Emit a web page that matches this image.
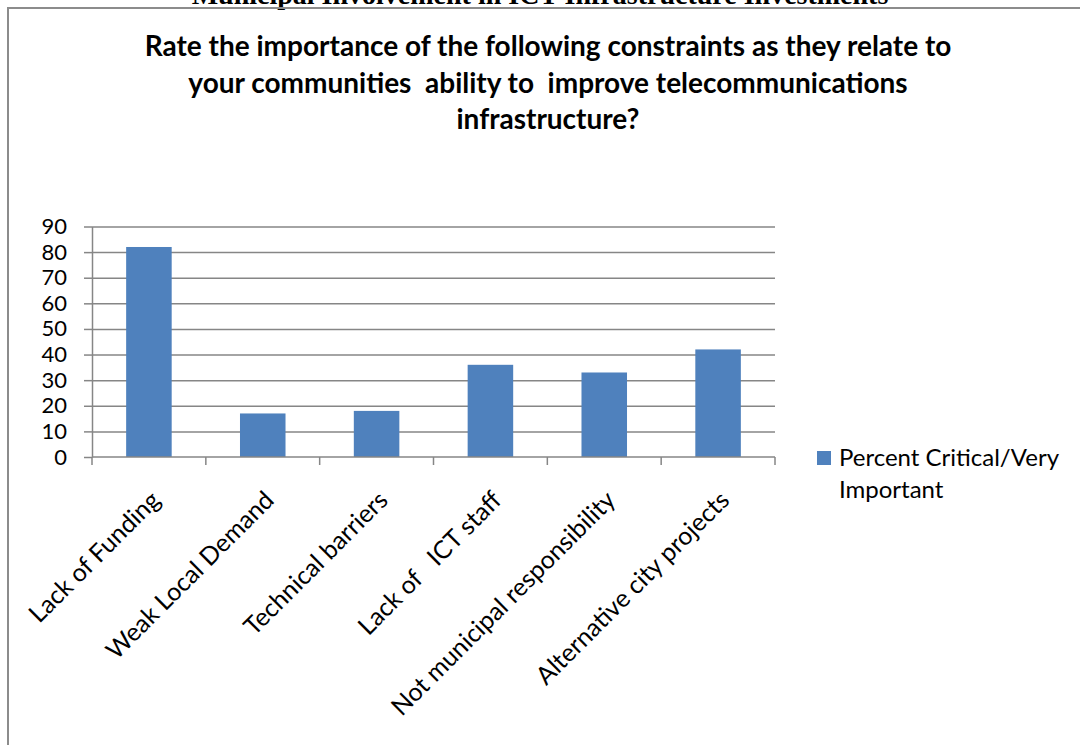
<!DOCTYPE html>
<html>
<head>
<meta charset="utf-8">
<script src="https://cdn.jsdelivr.net/npm/d3@7"></script>
<style>
  body { margin: 0; background: #fff; }
  svg { display: block; }
  .axis path, .axis line { stroke: #868686; stroke-width: 1.5; }
  .grid line { stroke: #868686; stroke-width: 1.5; }
  .grid path { display: none; }
</style>
</head>
<body>
<div id="chart"></div>
<script>
const categories = [
  'Lack of Funding',
  'Weak Local Demand',
  'Technical barriers',
  'Lack of   ICT staff',
  'Not municipal responsibility',
  'Alternative city projects'
]
const percentCritical = [82, 17, 18, 36, 33, 42]
const yTicks = [0, 10, 20, 30, 40, 50, 60, 70, 80, 90]
const titleLines = [
  'Rate the importance of the following constraints as they relate to',
  'your communities  ability to  improve telecommunications',
  'infrastructure?'
]
const seriesName = ['Percent Critical/Very', 'Important']
const pageHeading = 'Municipal Involvement in ICT Infrastructure Investments'

const fontFamily = 'Lato, "Open Sans", sans-serif'
const barColor = '#4f81bd'

const margin = { top: 226.5, left: 92, right: 305, bottom: 288 }
const totalWidth = 1080
const totalHeight = 745
const width = totalWidth - margin.left - margin.right
const height = totalHeight - margin.top - margin.bottom

const root = d3
  .select('#chart')
  .append('svg')
  .attr('width', totalWidth)
  .attr('height', totalHeight)

// page heading, cut off at the top edge like in the scan
root
  .append('text')
  .attr('x', 540)
  .attr('y', 4)
  .attr('text-anchor', 'middle')
  .attr('font-family', '"Liberation Serif", "Times New Roman", serif')
  .attr('font-weight', 'bold')
  .attr('font-size', 28)
  .text(pageHeading)

// chart frame
root
  .append('rect')
  .attr('x', 8)
  .attr('y', 8)
  .attr('width', 1200)
  .attr('height', 900)
  .attr('fill', 'none')
  .attr('stroke', '#8c8c8c')
  .attr('stroke-width', 2)

// title
root
  .append('text')
  .attr('text-anchor', 'middle')
  .attr('font-family', fontFamily)
  .attr('font-weight', 'bold')
  .attr('font-size', 28)
  .attr('fill', '#000')
  .selectAll('tspan')
  .data(titleLines)
  .enter()
  .append('tspan')
  .attr('x', 548)
  .attr('y', (d, i) => 56 + i * 36.5)
  .style('white-space', 'pre')
  .text(d => d)

const svg = root
  .append('g')
  .attr('transform', 'translate(' + margin.left + ',' + margin.top + ')')

const xPositionScale = d3
  .scaleBand()
  .domain(categories)
  .range([0, width])
  .paddingInner(0.6)
  .paddingOuter(0.3)

const xTickScale = d3
  .scaleBand()
  .domain(categories)
  .range([0, width])

const yPositionScale = d3
  .scaleLinear()
  .domain([0, 90])
  .range([height, 0])

// gridlines
svg
  .append('g')
  .attr('class', 'grid')
  .call(
    d3
      .axisLeft(yPositionScale)
      .tickValues(yTicks.filter(d => d > 0))
      .tickSize(-width)
      .tickFormat('')
  )

// bars
svg
  .selectAll('.bar')
  .data(percentCritical)
  .enter()
  .append('rect')
  .attr('class', 'bar')
  .attr('x', (d, i) => xPositionScale(categories[i]))
  .attr('width', xPositionScale.bandwidth())
  .attr('y', d => yPositionScale(d))
  .attr('height', d => height - yPositionScale(d))
  .attr('fill', barColor)

// y axis
const yAxis = d3
  .axisLeft(yPositionScale)
  .tickValues(yTicks)
  .tickSize(8)
  .tickSizeOuter(0)
  .tickPadding(17)

svg
  .append('g')
  .attr('class', 'axis y-axis')
  .call(yAxis)
  .selectAll('text')
  .attr('font-family', fontFamily)
  .attr('font-size', 22)
  .attr('fill', '#000')

// x axis line and boundary ticks
const xAxisG = svg
  .append('g')
  .attr('class', 'axis x-axis')
  .attr('transform', 'translate(0,' + height + ')')

xAxisG
  .append('path')
  .attr('d', 'M0,0H' + width)

const boundaries = categories.map(c => xTickScale(c)).concat([width])
xAxisG
  .selectAll('.tick-line')
  .data(boundaries)
  .enter()
  .append('line')
  .attr('class', 'tick-line')
  .attr('x1', d => d)
  .attr('x2', d => d)
  .attr('y1', 0)
  .attr('y2', 8)

// rotated category labels
xAxisG
  .selectAll('.x-label')
  .data(categories)
  .enter()
  .append('text')
  .attr('class', 'x-label')
  .attr('transform', d => {
    const cx = xTickScale(d) + xTickScale.bandwidth() / 2
    return 'translate(' + cx + ',32) rotate(-45)'
  })
  .attr('dy', '0.72em')
  .attr('text-anchor', 'end')
  .attr('font-family', fontFamily)
  .attr('font-size', 25)
  .attr('fill', '#000')
  .style('white-space', 'pre')
  .text(d => d)

// legend
const legend = root.append('g')
legend
  .append('rect')
  .attr('x', 817)
  .attr('y', 451)
  .attr('width', 14)
  .attr('height', 14)
  .attr('fill', barColor)

legend
  .append('text')
  .attr('font-family', fontFamily)
  .attr('font-size', 24)
  .attr('fill', '#000')
  .selectAll('tspan')
  .data(seriesName)
  .enter()
  .append('tspan')
  .attr('x', 839)
  .attr('y', (d, i) => 466 + i * 32)
  .text(d => d)
</script>
</body>
</html>
